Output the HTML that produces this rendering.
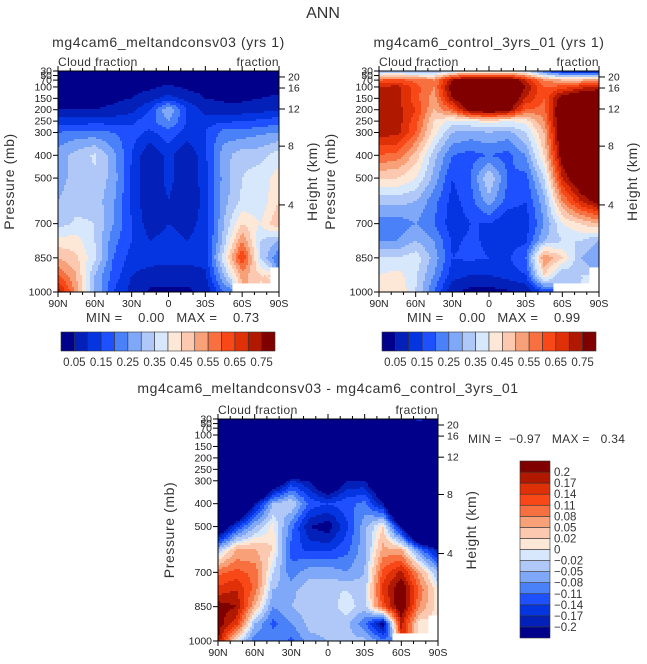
<!DOCTYPE html>
<html><head><meta charset="utf-8">
<style>
body{margin:0;background:#fff;}
svg{display:block;font-family:"Liberation Sans",sans-serif;}
</style></head>
<body>
<svg id="fig" width="647" height="664" viewBox="0 0 647 664">
<text x="323" y="18" text-anchor="middle" font-size="16" fill="#333">ANN</text>
<g id="layer"></g>
</svg>
<script>
// ---- data ----
const lats = ["90N","75N","60N","45N","30N","15N","0","15S","30S","45S","60S","75S","90S"];
const pressures = [30,70,100,150,200,250,300,400,500,600,700,775,850,925,1000];
const pressureTicks = [30,50,70,100,150,200,250,300,400,500,700,850,1000];
const latTickLabels = ["90N","60N","30N","0","30S","60S","90S"];
const heightTicks = [20,16,12,8,4];
const heightTickFrac = [0.027,0.077,0.172,0.34,0.606];
const levelsAbs = [0.05,0.1,0.15,0.2,0.25,0.3,0.35,0.4,0.45,0.5,0.55,0.6,0.65,0.7,0.75];
const levelsAbsLabels = ["0.05","0.15","0.25","0.35","0.45","0.55","0.65","0.75"];
const levelsDiff = [-0.2,-0.17,-0.14,-0.11,-0.08,-0.05,-0.02,0,0.02,0.05,0.08,0.11,0.14,0.17,0.2];
const levelsDiffLabels = ["-0.2","-0.17","-0.14","-0.11","-0.08","-0.05","-0.02","0","0.02","0.05","0.08","0.11","0.14","0.17","0.2"];
const palette = ["#00008a","#0320b8","#0535e0","#1e50ff","#4a80f8","#80a8f8","#b0c8f8","#d8e8fc","#fde8d8","#fcc8b0","#f8a078","#f87040","#f84818","#e03008","#b01800","#800000"];
const N = null;
const meltValues = [
[0.02,0.02,0.02,0.02,0.02,0.02,0.02,0.02,0.02,0.02,0.02,0.02,0.02],
[0.02,0.02,0.02,0.02,0.02,0.02,0.03,0.02,0.02,0.02,0.02,0.02,0.02],
[0.03,0.03,0.03,0.03,0.03,0.04,0.06,0.04,0.03,0.03,0.03,0.03,0.03],
[0.03,0.03,0.03,0.04,0.05,0.08,0.12,0.08,0.05,0.04,0.04,0.05,0.06],
[0.05,0.05,0.05,0.06,0.08,0.15,0.3,0.15,0.08,0.07,0.07,0.08,0.1],
[0.12,0.12,0.13,0.13,0.14,0.18,0.25,0.15,0.13,0.14,0.15,0.16,0.18],
[0.2,0.22,0.22,0.2,0.17,0.14,0.18,0.13,0.15,0.22,0.22,0.24,0.25],
[0.28,0.32,0.36,0.27,0.15,0.05,0.12,0.05,0.14,0.28,0.33,0.33,0.38],
[0.28,0.32,0.34,0.28,0.14,0.05,0.12,0.05,0.13,0.27,0.35,0.38,0.42],
[0.3,0.33,0.33,0.26,0.14,0.05,0.1,0.05,0.12,0.28,0.36,0.36,0.45],
[0.33,0.36,0.35,0.25,0.15,0.07,0.1,0.08,0.12,0.3,0.45,0.4,0.5],
[0.42,0.42,0.35,0.22,0.15,0.1,0.12,0.1,0.12,0.32,0.55,0.35,0.3],
[0.5,0.46,0.36,0.2,0.13,0.12,0.12,0.12,0.12,0.38,0.66,0.35,0.2],
[0.6,0.5,0.3,0.18,0.1,0.08,0.07,0.07,0.09,0.3,0.52,0.45,N],
[0.74,0.52,0.3,0.15,0.08,0.04,0.04,0.04,0.06,0.2,N,N,N]];
const ctrlValues = [
[0.3,0.3,0.3,0.3,0.35,0.4,0.4,0.4,0.35,0.2,0.1,0.1,0.1],
[0.6,0.62,0.58,0.55,0.75,0.85,0.85,0.85,0.7,0.55,0.5,0.5,0.55],
[0.7,0.72,0.62,0.55,0.8,0.85,0.85,0.85,0.75,0.6,0.62,0.68,0.72],
[0.7,0.72,0.62,0.52,0.75,0.85,0.85,0.85,0.7,0.6,0.8,0.85,0.85],
[0.72,0.72,0.65,0.5,0.6,0.8,0.85,0.8,0.6,0.58,0.85,0.9,0.9],
[0.75,0.73,0.62,0.45,0.38,0.4,0.42,0.4,0.42,0.55,0.85,0.9,0.9],
[0.72,0.72,0.6,0.42,0.3,0.28,0.3,0.28,0.35,0.5,0.85,0.9,0.9],
[0.6,0.58,0.48,0.32,0.2,0.18,0.2,0.18,0.25,0.45,0.8,0.9,0.9],
[0.45,0.45,0.4,0.28,0.15,0.2,0.35,0.2,0.18,0.35,0.7,0.85,0.9],
[0.32,0.32,0.3,0.22,0.13,0.18,0.28,0.18,0.15,0.28,0.55,0.7,0.8],
[0.22,0.22,0.25,0.2,0.12,0.15,0.15,0.1,0.12,0.25,0.4,0.45,0.5],
[0.25,0.25,0.3,0.25,0.14,0.16,0.14,0.12,0.14,0.3,0.35,0.35,0.3],
[0.35,0.35,0.38,0.28,0.15,0.16,0.15,0.14,0.2,0.55,0.45,0.3,0.25],
[0.4,0.42,0.36,0.25,0.12,0.1,0.1,0.12,0.15,0.45,0.3,0.35,N],
[0.45,0.45,0.35,0.2,0.06,0.03,0.03,0.04,0.06,0.15,N,N,N]];
const diffValues = [
[-0.5,-0.5,-0.5,-0.5,-0.5,-0.5,-0.5,-0.5,-0.5,-0.5,-0.5,-0.1,-0.5],
[-0.5,-0.5,-0.5,-0.5,-0.5,-0.5,-0.5,-0.5,-0.5,-0.5,-0.5,-0.5,-0.5],
[-0.5,-0.5,-0.5,-0.5,-0.5,-0.5,-0.5,-0.5,-0.5,-0.5,-0.5,-0.5,-0.5],
[-0.5,-0.5,-0.5,-0.5,-0.5,-0.5,-0.5,-0.5,-0.5,-0.5,-0.5,-0.5,-0.5],
[-0.5,-0.5,-0.5,-0.5,-0.5,-0.5,-0.5,-0.5,-0.5,-0.5,-0.5,-0.5,-0.5],
[-0.5,-0.5,-0.5,-0.5,-0.4,-0.45,-0.5,-0.45,-0.4,-0.5,-0.5,-0.5,-0.5],
[-0.5,-0.5,-0.5,-0.3,-0.17,-0.2,-0.3,-0.2,-0.2,-0.3,-0.5,-0.5,-0.5],
[-0.5,-0.4,-0.2,-0.05,-0.02,-0.12,-0.14,-0.12,-0.1,-0.2,-0.5,-0.5,-0.5],
[-0.3,-0.15,-0.05,0.01,-0.1,-0.2,-0.22,-0.15,-0.06,0.02,-0.2,-0.5,-0.5],
[-0.05,0.05,0.05,0.02,-0.12,-0.15,-0.15,-0.12,-0.06,0.06,0.05,-0.1,-0.2],
[0.1,0.12,0.1,-0.02,-0.1,-0.06,-0.06,-0.08,-0.05,0.12,0.18,0.06,-0.05],
[0.15,0.17,0.1,-0.05,-0.06,-0.03,-0.03,-0.02,-0.04,0.15,0.24,0.1,0.0],
[0.22,0.2,0.05,-0.08,-0.05,-0.03,-0.04,0.0,-0.04,0.12,0.24,0.08,0.0],
[0.22,0.15,-0.05,-0.12,-0.08,-0.04,-0.04,-0.04,-0.1,-0.22,0.18,0.0,N],
[0.2,0.0,-0.1,-0.08,-0.12,-0.06,-0.05,-0.04,-0.04,-0.1,N,N,N]];

// ---- drawing ----
const NS="http://www.w3.org/2000/svg";
const layer=document.getElementById('layer');
function mk(tag,attrs,parent,txt){const e=document.createElementNS(NS,tag);for(const k in attrs)e.setAttribute(k,attrs[k]);if(txt!==undefined)e.textContent=txt;(parent||layer).appendChild(e);return e;}
function bin(v,levels){let i=0;while(i<levels.length&&v>=levels[i])i++;return i;}
function sample(grid,fx,p){
  const cx=fx*(lats.length-1);let c0=Math.min(Math.floor(cx),lats.length-2);const tx=cx-c0;
  let r0=0;while(r0<pressures.length-2&&p>pressures[r0+1])r0++;
  const ty=Math.max(0,Math.min(1,(p-pressures[r0])/(pressures[r0+1]-pressures[r0])));
  const a=grid[r0][c0],b=grid[r0][c0+1],c=grid[r0+1][c0],d=grid[r0+1][c0+1];
  const near=[[a,b],[c,d]][ty<0.5?0:1][tx<0.5?0:1];
  if(near===null)return null;
  const vals=[[a,(1-tx)*(1-ty)],[b,tx*(1-ty)],[c,(1-tx)*ty],[d,tx*ty]];
  let s=0,w=0;for(const [v,ww] of vals){if(v!==null){s+=v*ww;w+=ww;}}
  return w>0?s/w:null;
}
function panel(opts){
  const {x0,y0,w,h,grid,levels,title,name,titleY}=opts;
  const g=mk('g',{});
  
  
  const xScale=f=>x0+f*w;
  const yScale=p=>y0+(p-30)/970*h;
  const cell=2;
  const cols=Math.ceil(w/cell),rows=Math.ceil(h/cell);
  for(let j=0;j<rows;j++){
    const py=y0+j*cell,ph=Math.min(cell,y0+h-py);
    const p=30+((py+ph/2-y0)/h)*970;
    let run=null;
    for(let i=0;i<=cols;i++){
      let k=-2;
      if(i<cols){const v=sample(grid,(i*cell+cell/2)/w,p);k=v===null?-1:bin(v,levels);}
      if(run&&run.k===k){continue;}
      if(run&&run.k>=0){
        const rx=x0+run.i*cell,rw=Math.min(i*cell,w)-run.i*cell;
        const r=mk('rect',{x:rx,y:py,width:rw+0.4,height:ph+0.4,fill:palette[run.k]},g);
        
        
      }
      run={k:k,i:i};
    }
  }
  mk('rect',{x:x0,y:y0,width:w,height:h,fill:'none',stroke:'#000','stroke-width':1},g);
  const tt=mk('text',{x:x0+w/2,y:titleY,'text-anchor':'middle','font-size':14,'letter-spacing':0.6,fill:'#333'},g,title);
  
  
  mk('text',{x:x0,y:y0-5,'font-size':12,'letter-spacing':0.4,fill:'#333'},g,'Cloud fraction');
  mk('text',{x:x0+w,y:y0-5,'font-size':12,'letter-spacing':0.4,fill:'#333','text-anchor':'end'},g,'fraction');
  for(const p of pressureTicks){
    const y=yScale(p);
    mk('line',{x1:x0-5,x2:x0,y1:y,y2:y,stroke:'#000'},g);
    mk('text',{x:x0-6,y:y+3.5,'font-size':10.5,'text-anchor':'end',fill:'#222'},g,String(p));
  }
  for(let d=0;d<=18;d++){
    const x=xScale(d/18),major=d%3===0;
    mk('line',{x1:x,x2:x,y1:y0+h,y2:y0+h+(major?5:3),stroke:'#000'},g);
    mk('line',{x1:x,x2:x,y1:y0,y2:y0-(major?5:3),stroke:'#000'},g);
    if(major) mk('text',{x:x,y:y0+h+15,'font-size':10.5,'text-anchor':'middle',fill:'#222'},g,latTickLabels[d/3]);
  }
  heightTicks.forEach((hk,i)=>{
    const y=y0+heightTickFrac[i]*h;
    mk('line',{x1:x0+w,x2:x0+w+6,y1:y,y2:y,stroke:'#000'},g);
    mk('text',{x:x0+w+9,y:y+3.5,'font-size':10.5,fill:'#222'},g,String(hk));
  });
  const ya=mk('text',{transform:`translate(${x0-44},${y0+h/2}) rotate(-90)`,'font-size':14,'letter-spacing':0.6,'text-anchor':'middle',fill:'#333'},g,'Pressure (mb)');
  
  
  const ha=mk('text',{transform:`translate(${x0+w+38},${y0+h/2}) rotate(-90)`,'font-size':14,'letter-spacing':0.6,'text-anchor':'middle',fill:'#333'},g,'Height (km)');
  
  
}
function hbar(x0,y0,w,h,name){
  const g=mk('g',{});
  
  
  const bw=w/palette.length;
  palette.forEach((c,i)=>{
    const r=mk('rect',{x:x0+i*bw,y:y0,width:bw,height:h,fill:c,stroke:'#333','stroke-width':0.6},g);
    
    
  });
  levelsAbsLabels.forEach((l,i)=>{
    mk('text',{x:x0+(2*i+1)*bw,y:y0+h+15,'font-size':11.5,'text-anchor':'middle',fill:'#333'},g,l);
  });
}
function minmax(x,y,txt,name,fs){
  const t=mk('text',{x:x,y:y,'font-size':fs,'letter-spacing':0.3,fill:'#333'},layer,txt);
  
  
  t.setAttribute('style','white-space:pre');
}
panel({x0:58,y0:71,w:221,h:221,grid:meltValues,levels:levelsAbs,title:'mg4cam6_meltandconsv03 (yrs 1)',name:'panel-meltandconsv03',titleY:47});
panel({x0:379,y0:71,w:220,h:221,grid:ctrlValues,levels:levelsAbs,title:'mg4cam6_control_3yrs_01 (yrs 1)',name:'panel-control',titleY:47});
panel({x0:218,y0:419,w:220,h:222,grid:diffValues,levels:levelsDiff,title:'mg4cam6_meltandconsv03 - mg4cam6_control_3yrs_01',name:'panel-difference',titleY:393});
minmax(86,322,'MIN =    0.00   MAX =    0.73','minmax-left',13);
minmax(407,322,'MIN =    0.00   MAX =    0.99','minmax-right',13);
minmax(468,443,'MIN =  \u22120.97   MAX =   0.34','minmax-diff',12);
hbar(61,332,214,19,'colorbar-left');
hbar(382,332,214,19,'colorbar-right');
(function(){
  const g=mk('g',{});
  
  
  const x0=520,y0=461,w=30,h=177,bh=h/palette.length;
  palette.forEach((c,i)=>{
    const r=mk('rect',{x:x0,y:y0+h-(i+1)*bh,width:w,height:bh,fill:c,stroke:'#333','stroke-width':0.6},g);
    
    
  });
  levelsDiffLabels.forEach((l,i)=>{
    mk('text',{x:x0+w+4,y:y0+h-(i+1)*bh+4,'font-size':11.5,fill:'#333'},g,l.replace('-','\u2212'));
  });
})();
</script>
</body></html>
